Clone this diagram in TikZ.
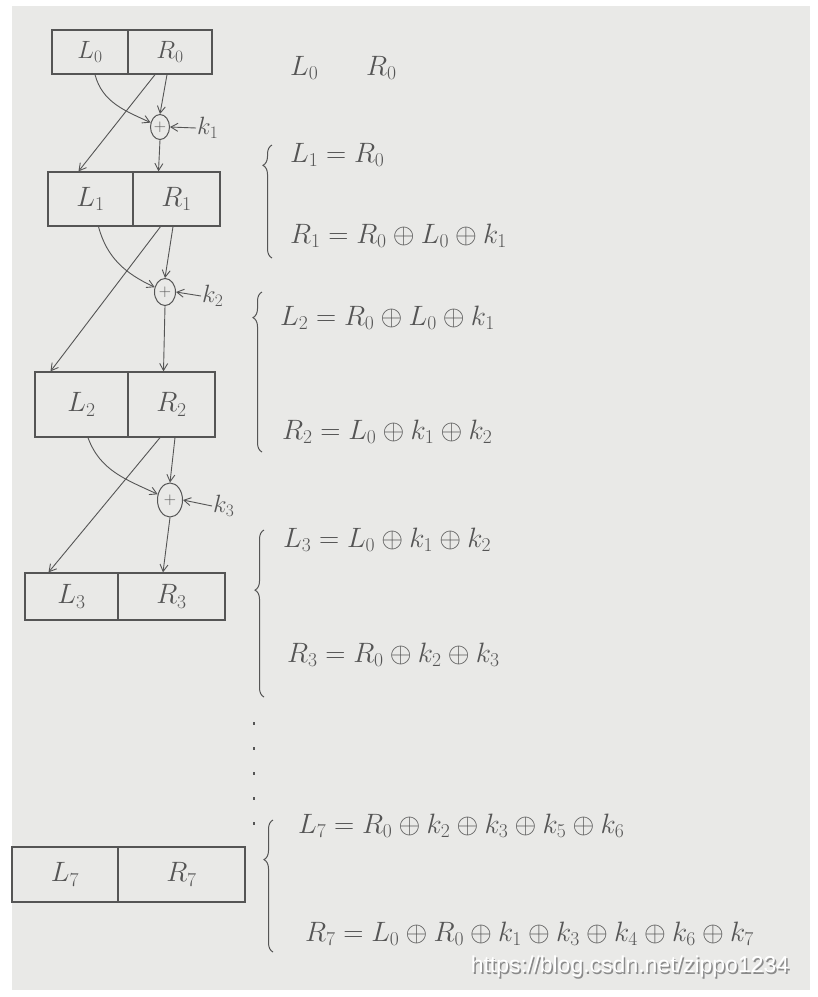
\RequirePackage{fix-cm}
\documentclass[tikz,border=0pt]{standalone}
\usepackage{fontspec}
\usetikzlibrary{arrows.meta,decorations.pathreplacing,calc,shapes.geometric}
\newfontfamily\wmfont{Liberation Sans}
\definecolor{ink}{HTML}{555555}
\definecolor{paper}{HTML}{E9E9E7}
\definecolor{shade}{HTML}{8A8A8A}
\begin{document}
\begin{tikzpicture}[x=1pt,y=-1pt,
  half/.style={draw=ink, line width=1.3pt, inner sep=0pt, text=ink, font=\fontsize{28}{32}\selectfont},
  xorc/.style={ellipse, draw=ink, line width=1pt, inner sep=0pt, text=ink, font=\fontsize{17}{19}\selectfont},
  arr/.style={-{Straight Barb[length=7pt,width=8pt]}, draw=ink, line width=0.9pt},
  eq/.style={anchor=west, text=ink, inner sep=0pt, font=\fontsize{28}{32}\selectfont},
  klab/.style={anchor=west, text=ink, inner sep=1pt, font=\fontsize{25}{29}\selectfont},
  brc/.style={decorate, draw=ink, line width=1pt}
]
\useasboundingbox (0,0) rectangle (818,997);
\fill[white] (0,0) rectangle (818,997);
\fill[paper] (12,6) rectangle (810,990);

% boxes
\node[half, minimum width=76pt, minimum height=44pt, font=\fontsize{25}{29}\selectfont] (L0) at (90,52) {$L_0$};
\node[half, minimum width=84pt, minimum height=44pt, font=\fontsize{25}{29}\selectfont] (R0) at (170,52) {$R_0$};
\node[half, minimum width=85pt, minimum height=54pt] (L1) at (90.5,199) {$L_1$};
\node[half, minimum width=87pt, minimum height=54pt] (R1) at (176.5,199) {$R_1$};
\node[half, minimum width=93pt, minimum height=65pt] (L2) at (81.5,404.5) {$L_2$};
\node[half, minimum width=87pt, minimum height=65pt] (R2) at (171.5,404.5) {$R_2$};
\node[half, minimum width=93pt, minimum height=47pt] (L3) at (71.5,596.5) {$L_3$};
\node[half, minimum width=107pt, minimum height=47pt] (R3) at (171.5,596.5) {$R_3$};
\node[half, minimum width=106pt, minimum height=55pt] (L7) at (65,874.5) {$L_7$};
\node[half, minimum width=127pt, minimum height=55pt] (R7) at (181.5,874.5) {$R_7$};

% xor circles and keys
\node[xorc, minimum width=19pt, minimum height=25pt] (X1) at (160,127) {$+$};
\node[xorc, minimum width=21pt, minimum height=27pt] (X2) at (165,292) {$+$};
\node[xorc, minimum width=25pt, minimum height=34pt] (X3) at (170,500) {$+$};
\node[klab] (k1) at (196,128) {$k_1$};
\node[klab] (k2) at (201,296) {$k_2$};
\node[klab] (k3) at (212,506) {$k_3$};

% round 1
\draw[arr] ([xshift=5pt]L0.south) to[out=-75,in=155] (X1.155);
\draw[arr] ([xshift=-3pt]R0.south) -- (X1.north);
\draw[arr] ([xshift=-15pt]R0.south) -- ([xshift=-12pt]L1.north);
\draw[arr] (X1.south) -- ([xshift=-18pt]R1.north);
\draw[arr] (k1.west) -- (X1.east);
% round 2
\draw[arr] ([xshift=8pt]L1.south) to[out=-75,in=155] (X2.155);
\draw[arr] ([xshift=-3.5pt]R1.south) -- (X2.north);
\draw[arr] ([xshift=-16pt]R1.south) -- ([xshift=-31pt]L2.north);
\draw[arr] (X2.south) -- ([xshift=-8pt]R2.north);
\draw[arr] (k2.west) -- (X2.east);
% round 3
\draw[arr] ([xshift=6.5pt]L2.south) to[out=-70,in=155] (X3.155);
\draw[arr] ([xshift=3.5pt]R2.south) -- (X3.north);
\draw[arr] ([xshift=-11.5pt]R2.south) -- ([xshift=-23pt]L3.north);
\draw[arr] (X3.south) -- ([xshift=-8.5pt]R3.north);
\draw[arr] (k3.west) -- (X3.east);

% dotted continuation
\coordinate (d1) at (254,722);
\coordinate (d2) at (254,826);
\draw[ink, line width=1.2pt, dash pattern=on 3pt off 22pt] (d1) -- (d2);

% top labels
\node[eq] (tl) at (290,68) {$L_0$};
\node[eq] (tr) at (366,68) {$R_0$};

% braces
\draw[brc, decoration={brace, amplitude=9pt, aspect=0.82}] (272,258) -- (272,145);
\draw[brc, decoration={brace, amplitude=9pt, aspect=0.84}] (262,452) -- (262,292);
\draw[brc, decoration={brace, amplitude=9pt, aspect=0.64}] (264,697) -- (264,530);
\draw[brc, decoration={brace, amplitude=9pt, aspect=0.70}] (273,952) -- (273,820);

% equations
\node[eq] (e1) at (290,155) {$L_1 = R_0$};
\node[eq] (e2) at (290,236) {$R_1 = R_0 \oplus L_0 \oplus k_1$};
\node[eq] (e3) at (280,318) {$L_2 = R_0 \oplus L_0 \oplus k_1$};
\node[eq] (e4) at (282,432) {$R_2 = L_0 \oplus k_1 \oplus k_2$};
\node[eq] (e5) at (283,540) {$L_3 = L_0 \oplus k_1 \oplus k_2$};
\node[eq] (e6) at (287,655) {$R_3 = R_0 \oplus k_2 \oplus k_3$};
\node[eq] (e7) at (298,826) {$L_7 = R_0 \oplus k_2 \oplus k_3 \oplus k_5 \oplus k_6$};
\node[eq] (e8) at (305,934) {$R_7 = L_0 \oplus R_0 \oplus k_1 \oplus k_3 \oplus k_4 \oplus k_6 \oplus k_7$};

% watermark
\node[text=shade, font=\wmfont\fontsize{23}{27}\selectfont] (wms) at (631.5,968.5) {https://blog.csdn.net/zippo1234};
\node[text=white, font=\wmfont\fontsize{23}{27}\selectfont] (wm) at (630,967) {https://blog.csdn.net/zippo1234};
\end{tikzpicture}
\end{document}
